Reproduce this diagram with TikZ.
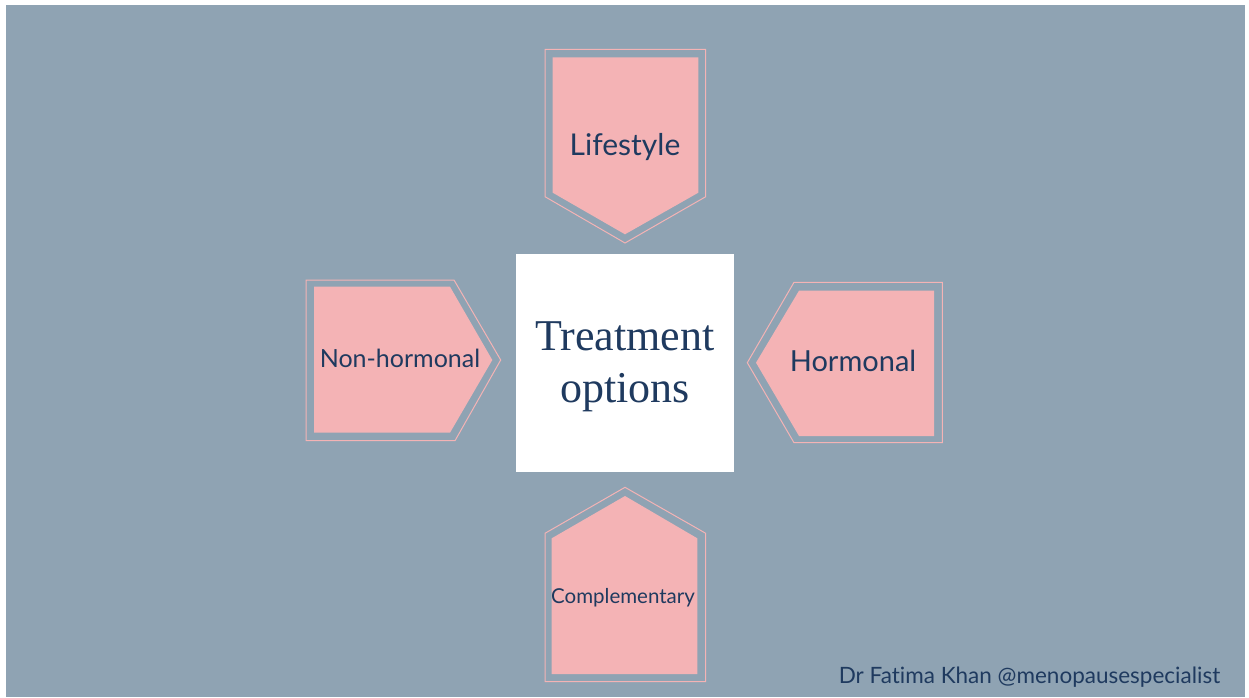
\documentclass[tikz,border=0pt]{standalone}
\usepackage{fontspec}
\setmainfont{Lato}[Ligatures={NoCommon}]
\newfontfamily\titlefont{Liberation Serif}
\definecolor{bgblue}{HTML}{8FA3B3}
\definecolor{pinkfill}{HTML}{F4B3B5}
\definecolor{navy}{HTML}{1F3A5F}
\tikzset{
  outerline/.style={draw=pinkfill, line width=1pt},
  innerfill/.style={fill=pinkfill},
  lbl/.style={text=navy, inner sep=0pt, anchor=center},
}
\begin{document}
\begin{tikzpicture}[x=1pt,y=-1pt]
\useasboundingbox (0,0) rectangle (1249,698);
\fill[white] (0,0) rectangle (1249,698);
\fill[bgblue] (6,5) rectangle (1245,697);
% Lifestyle (top)
\draw[outerline] (545,49.3) -- (705.7,49.3) -- (705.7,196.7) -- (625,243) -- (545,196.7) -- cycle;
\fill[innerfill] (552.7,57.3) -- (698.3,57.3) -- (698.3,192.7) -- (625,234.3) -- (552.7,192.7) -- cycle;
\node[lbl, font=\fontsize{30}{34}\selectfont] (life) at (625,147) {Lifestyle};
% Non-hormonal (left)
\draw[outerline] (306,280) -- (454,280) -- (500.7,360) -- (455,440.7) -- (306,440.7) -- cycle;
\fill[innerfill] (314,286.7) -- (450,286.7) -- (492.3,360) -- (450,432.7) -- (314,432.7) -- cycle;
\node[lbl, font=\fontsize{25}{29}\selectfont] (nonh) at (400,358) {Non-hormonal};
% Hormonal (right)
\draw[outerline] (747.3,362.7) -- (794,282.3) -- (942.3,282.3) -- (942.3,442.7) -- (794,442.7) -- cycle;
\fill[innerfill] (756,362.7) -- (799,290.7) -- (934,290.7) -- (934,436) -- (799,436) -- cycle;
\node[lbl, font=\fontsize{29}{33}\selectfont] (horm) at (853,361) {Hormonal};
% Complementary (bottom)
\draw[outerline] (625,487.3) -- (705.7,533.3) -- (705.7,681.7) -- (545,681.7) -- (545,533.3) -- cycle;
\fill[innerfill] (625,496) -- (697.3,538.3) -- (697.3,674) -- (551.7,674) -- (551.7,538.3) -- cycle;
\node[lbl, font=\fontsize{20.5}{24}\selectfont] (comp) at (623,598) {Complementary};
% Centre
\fill[white] (516,254) rectangle (734.3,471.7);
\node[lbl, align=center, font=\titlefont\fontsize{44}{52}\selectfont] (treat) at (625,367) {Treatment\\options};
% Footer
\node[lbl, font=\fontsize{22.5}{26}\selectfont] (foot) at (1029.5,677) {Dr Fatima Khan @menopausespecialist};
\end{tikzpicture}
\end{document}
